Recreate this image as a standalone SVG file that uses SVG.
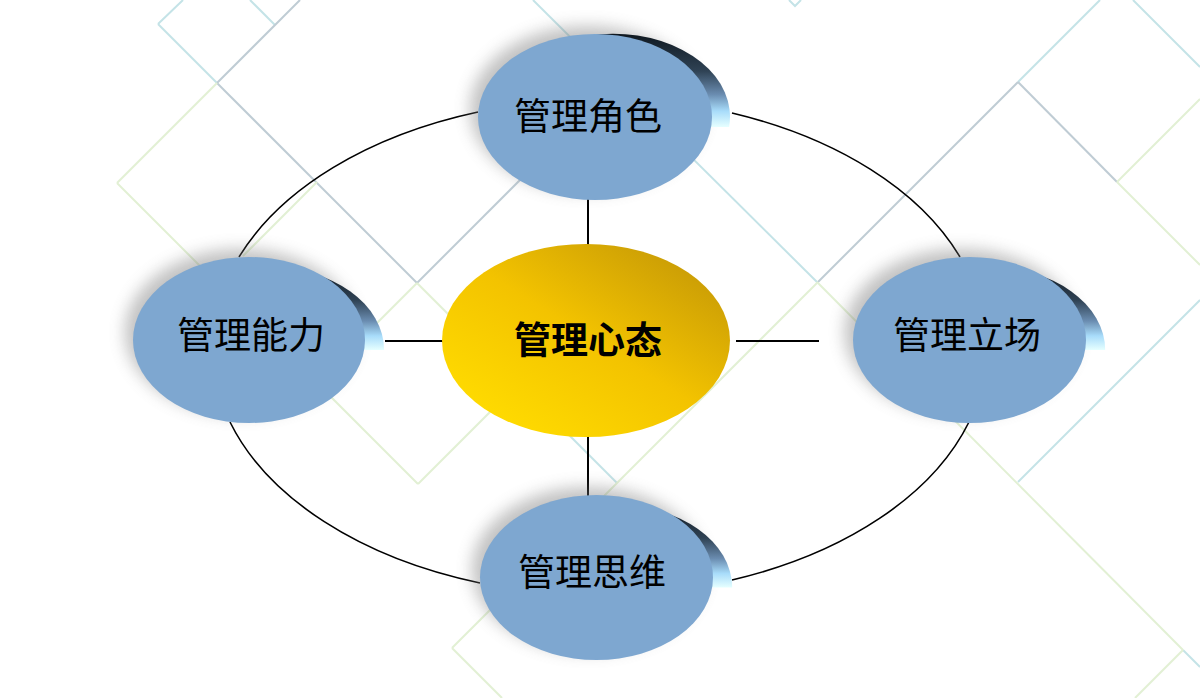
<svg xmlns="http://www.w3.org/2000/svg" width="1200" height="698" viewBox="0 0 1200 698">
<defs>
<style>
.bg{fill:none;stroke-width:2}
.c{stroke:#c4e3e7}
.g{stroke:#bfccd4}
.n{stroke:#e2f0d4}
.conn{fill:none;stroke:#000;stroke-width:1.6}
.spoke{stroke:#000;stroke-width:2}
.blue{fill:#7ea7d0}
.shadow{fill:#777;opacity:0.45;filter:url(#blur)}
.cres{fill:url(#cresGrad)}
.lbl{font-family:"Noto Sans CJK SC","Noto Sans CJK JP",sans-serif;font-size:37px;fill:#000;text-anchor:middle}
.lblc{font-family:"Noto Sans CJK SC","Noto Sans CJK JP",sans-serif;font-size:37px;font-weight:bold;fill:#000;text-anchor:middle}
</style>
<filter id="blur" x="-30%" y="-30%" width="160%" height="160%"><feGaussianBlur stdDeviation="8"/></filter>
<linearGradient id="cresGrad" x1="0" y1="0" x2="0" y2="1">
<stop offset="0" stop-color="#0f1820"/>
<stop offset="0.4" stop-color="#2f4254"/>
<stop offset="0.65" stop-color="#6a8cb0"/>
<stop offset="0.83" stop-color="#a8dcfa"/>
<stop offset="1" stop-color="#e6ffff"/>
</linearGradient>
<linearGradient id="yel" x1="0.15" y1="0.9" x2="0.9" y2="0.1">
<stop offset="0" stop-color="#ffdb00"/>
<stop offset="0.5" stop-color="#f3c300"/>
<stop offset="1" stop-color="#c89b06"/>
</linearGradient>
</defs>
<rect width="1200" height="698" fill="#fff"/>
<g id="background">
<line class="bg c" x1="158" y1="24" x2="183" y2="0"/>
<line class="bg c" x1="158" y1="24" x2="217" y2="83"/>
<line class="bg c" x1="250" y1="0" x2="275" y2="25"/>
<line class="bg c" x1="1100" y1="0" x2="1018" y2="82"/>
<line class="bg c" x1="1133" y1="0" x2="1200" y2="67"/>
<line class="bg c" x1="533" y1="0" x2="818" y2="283"/>
<line class="bg c" x1="1200" y1="300" x2="1018" y2="482"/>
<line class="bg c" x1="1183" y1="650" x2="1200" y2="667"/>
<line class="bg c" x1="555" y1="421" x2="617" y2="483"/>
<polyline class="bg c" points="789,0 795,6 801,0"/>
<line class="bg g" x1="300" y1="0" x2="217" y2="83"/>
<line class="bg g" x1="217" y1="83" x2="417" y2="283"/>
<line class="bg g" x1="417" y1="283" x2="560" y2="140"/>
<line class="bg g" x1="1018" y1="82" x2="818" y2="282"/>
<line class="bg g" x1="1018" y1="82" x2="1117" y2="182"/>
<line class="bg n" x1="217" y1="83" x2="117" y2="183"/>
<line class="bg n" x1="117" y1="183" x2="418" y2="484"/>
<line class="bg n" x1="418" y1="484" x2="530" y2="372"/>
<line class="bg n" x1="417" y1="283" x2="500" y2="366"/>
<line class="bg n" x1="417" y1="283" x2="375" y2="325"/>
<line class="bg n" x1="317" y1="182" x2="243" y2="256"/>
<line class="bg n" x1="818" y1="282" x2="452" y2="648"/>
<line class="bg n" x1="452" y1="648" x2="502" y2="698"/>
<line class="bg n" x1="818" y1="283" x2="1183" y2="650"/>
<line class="bg n" x1="1117" y1="182" x2="1200" y2="265"/>
<line class="bg n" x1="1117" y1="182" x2="1200" y2="99"/>
<line class="bg n" x1="1183" y1="650" x2="1135" y2="698"/>
</g>
<g id="connectors">
<path class="conn" d="M478 112 A390 247 0 0 0 239 257"/>
<path class="conn" d="M960 257 A390 247 0 0 0 732 113"/>
<path class="conn" d="M230 422 A390 247 0 0 0 480 583"/>
<path class="conn" d="M969 422 A390 247 0 0 1 732 580"/>
<line class="spoke" x1="588" y1="198" x2="588" y2="246"/>
<line class="spoke" x1="588" y1="435" x2="588" y2="497"/>
<line class="spoke" x1="385" y1="341" x2="444" y2="341"/>
<line class="spoke" x1="736" y1="341" x2="819" y2="341"/>
</g>
<g id="node-role">
<ellipse class="shadow" cx="587" cy="109" rx="117" ry="83"/>
<path class="cres" d="M496.9 127 A117 83 0 1 1 729.1 127 Z"/>
<ellipse class="blue" cx="595" cy="117" rx="117" ry="83"/>
<text class="lbl" x="588" y="129.5">管理角色</text>
</g>
<g id="node-ability">
<ellipse class="shadow" cx="241" cy="332" rx="116" ry="83"/>
<path class="cres" d="M151.9 350 A116 83 0 1 1 384.1 350 Z"/>
<ellipse class="blue" cx="249" cy="340" rx="116" ry="83"/>
<text class="lbl" x="251" y="348.5">管理能力</text>
</g>
<g id="node-stance">
<ellipse class="shadow" cx="961" cy="332" rx="116.5" ry="83"/>
<path class="cres" d="M871.8 350 A116.5 83 0 1 1 1105.2 350 Z"/>
<ellipse class="blue" cx="969.5" cy="340" rx="116.5" ry="83"/>
<text class="lbl" x="967" y="348.5">管理立场</text>
</g>
<g id="node-thinking">
<ellipse class="shadow" cx="588.5" cy="569.5" rx="116.5" ry="82.5"/>
<path class="cres" d="M498.8 587.5 A116.5 82.5 0 1 1 732.2 587.5 Z"/>
<ellipse class="blue" cx="596.5" cy="577.5" rx="116.5" ry="82.5"/>
<text class="lbl" x="592" y="586">管理思维</text>
</g>
<g id="node-center">
<ellipse cx="586" cy="340.5" rx="144" ry="96.5" fill="url(#yel)"/>
<text class="lblc" x="588" y="353.5">管理心态</text>
</g>
</svg>
